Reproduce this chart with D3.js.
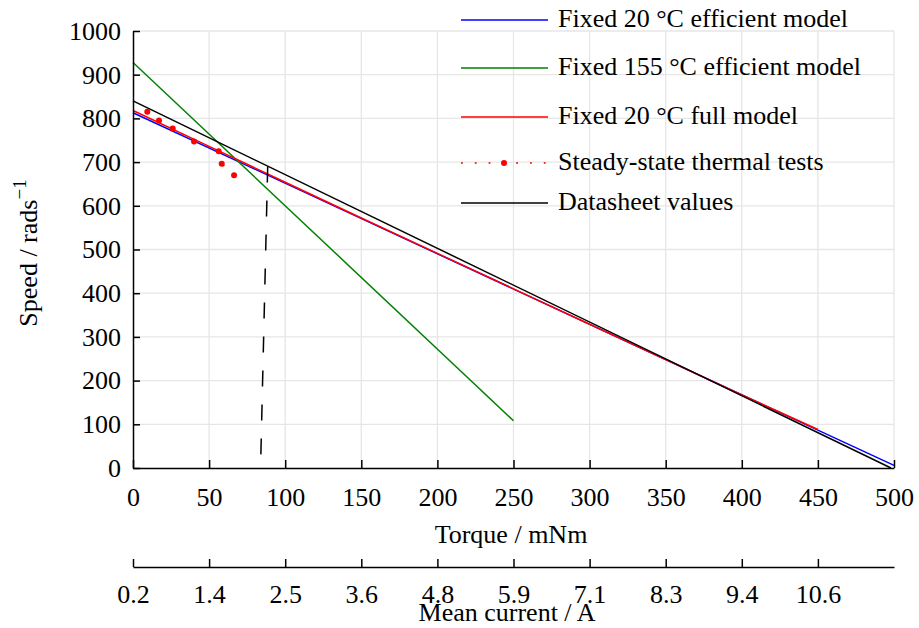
<!DOCTYPE html>
<html>
<head>
<meta charset="utf-8">
<script src="https://cdn.jsdelivr.net/npm/d3@7"></script>
<style>
  body { margin: 0; background: #fff; }
  svg { font-family: "Liberation Serif", "DejaVu Serif", serif; }
</style>
</head>
<body>
<div id="chart"></div>
<script>

/**
 * Data
 */

// Torque (mNm) / speed (rad/s) pairs
const efficient20 = [[0, 813], [500, 6]];
const efficient155 = [[0, 928], [250, 108]];
const full20 = [[0, 818], [50, 736], [100, 654], [150, 572], [200, 491], [250, 410], [300, 329], [350, 248], [400, 167], [450, 88]];
const thermalTorque = [9.4, 17.1, 26.1, 40.1, 56.3, 58.3, 66.4];
const thermalSpeed = [815, 795, 777, 747, 725, 696, 670];
const datasheet = [[0, 840], [498, 0]];
const operatingPoint = [[88.5, 690], [83.8, 0]];

const torqueTicks = [0, 50, 100, 150, 200, 250, 300, 350, 400, 450, 500];
const speedTicks = [0, 100, 200, 300, 400, 500, 600, 700, 800, 900, 1000];
const currentTickPos = [0, 50, 100, 150, 200, 250, 300, 350, 400, 450];
const currentLabels = ['0.2', '1.4', '2.5', '3.6', '4.8', '5.9', '7.1', '8.3', '9.4', '10.6'];

const legendLabels = ['Fixed 20 \u00B0C efficient model', 'Fixed 155 \u00B0C efficient model', 'Fixed 20 \u00B0C full model', 'Steady-state thermal tests', 'Datasheet values'];


/**
 * Setup
 */

const W = 919, H = 628;
const m = { left: 133, right: 894, top: 31, bottom: 468 };
const fontSize = 26;

const x = d3.scaleLinear().domain([0, 500]).range([m.left, m.right]);
const y = d3.scaleLinear().domain([0, 1000]).range([m.bottom, m.top]);

const svg = d3.select('#chart')
              .append('svg')
              .attr('width', W)
              .attr('height', H);

const line = d3.line().x(d => x(d[0])).y(d => y(d[1]));


// Grid
const grid = svg.append('g').attr('stroke', '#e6e6e6').attr('stroke-width', 1.3);

grid.selectAll('.gx')
    .data(torqueTicks.slice(1))
    .enter()
    .append('line')
    .attr('x1', d => x(d)).attr('x2', d => x(d))
    .attr('y1', m.bottom).attr('y2', m.top);

grid.selectAll('.gy')
    .data(speedTicks.slice(1))
    .enter()
    .append('line')
    .attr('x1', m.left).attr('x2', m.right)
    .attr('y1', d => y(d)).attr('y2', d => y(d));


// Series
const series = [
  { data: efficient20, color: '#0000ff' },
  { data: efficient155, color: '#008000' },
  { data: full20, color: '#ff0000' },
  { data: datasheet, color: '#000000' },
];

series.forEach(s => {
  svg.append('path')
     .attr('d', line(s.data))
     .attr('fill', 'none')
     .attr('stroke', s.color)
     .attr('stroke-width', 1.5);
});

const thermal = thermalTorque.map((t, i) => [t, thermalSpeed[i]]);

svg.append('path')
   .attr('d', line(thermal))
   .attr('fill', 'none')
   .attr('stroke', '#ff0000')
   .attr('stroke-opacity', 0.7)
   .attr('stroke-width', 1.8)
   .attr('stroke-dasharray', '1.8,12');

svg.selectAll('.pt')
   .data(thermal)
   .enter()
   .append('circle')
   .attr('cx', d => x(d[0]))
   .attr('cy', d => y(d[1]))
   .attr('r', 3)
   .attr('fill', '#ff0000');

svg.append('path')
   .attr('d', line(operatingPoint))
   .attr('fill', 'none')
   .attr('stroke', '#000')
   .attr('stroke-width', 1.5)
   .attr('stroke-dasharray', '16,18');


// Axes
const yAxis = d3.axisLeft(y)
                .tickValues(speedTicks)
                .tickFormat(d3.format('d'))
                .tickSizeInner(-7)
                .tickSizeOuter(0)
                .tickPadding(12);

const xAxis = d3.axisBottom(x)
                .tickValues(torqueTicks)
                .tickSizeInner(-8)
                .tickSizeOuter(0);

const currentAxis = d3.axisBottom(x)
                      .tickValues(currentTickPos)
                      .tickFormat((d, i) => currentLabels[i])
                      .tickSizeInner(-8)
                      .tickSizeOuter(0);

const styleAxis = g => {
  g.selectAll('path, line').attr('stroke', '#000').attr('stroke-width', 1.5);
  g.selectAll('text').attr('font-size', fontSize).attr('fill', '#000').style('font-family', 'Liberation Serif');
};

svg.append('g').attr('transform', `translate(${m.left},0)`).call(yAxis).call(styleAxis);

svg.append('g').attr('transform', `translate(0,${m.bottom})`).call(xAxis).call(styleAxis)
   .selectAll('text').attr('dy', null).attr('y', 38);

svg.append('g').attr('transform', 'translate(0,567)').call(currentAxis).call(styleAxis)
   .selectAll('text').attr('dy', null).attr('y', 36);


// Axis titles
svg.append('text')
   .attr('x', 511)
   .attr('y', 543)
   .attr('text-anchor', 'middle')
   .attr('font-size', fontSize)
   .text('Torque / mNm');

svg.append('text')
   .attr('x', 507)
   .attr('y', 621)
   .attr('text-anchor', 'middle')
   .attr('font-size', fontSize)
   .text('Mean current / A');

const ylab = svg.append('text')
                .attr('transform', 'translate(37,253) rotate(-90)')
                .attr('text-anchor', 'middle')
                .attr('font-size', fontSize);
ylab.append('tspan').text('Speed / rads');
ylab.append('tspan').attr('dy', -11).attr('font-size', 19).text('\u22121');


// Legend
const legendY = [20, 68, 117, 163, 203];
const legendColors = ['#0000ff', '#008000', '#ff0000', '#ff0000', '#000000'];

const legend = svg.append('g');

legendLabels.forEach((label, i) => {
  const ly = legendY[i];
  const item = legend.append('g');
  if (i === 3) {
    item.append('line')
        .attr('x1', 461).attr('x2', 548)
        .attr('y1', ly).attr('y2', ly)
        .attr('stroke', '#ff0000')
        .attr('stroke-opacity', 0.8)
        .attr('stroke-width', 1.8)
        .attr('stroke-dasharray', '1.8,12');
    item.append('circle').attr('cx', 504).attr('cy', ly).attr('r', 3).attr('fill', '#ff0000');
  } else {
    item.append('line')
        .attr('x1', 461).attr('x2', 548)
        .attr('y1', ly).attr('y2', ly)
        .attr('stroke', legendColors[i])
        .attr('stroke-width', 1.5);
  }
  item.append('text')
      .attr('x', 558)
      .attr('y', ly + 7)
      .attr('font-size', fontSize)
      .text(label);
});

</script>
</body>
</html>
